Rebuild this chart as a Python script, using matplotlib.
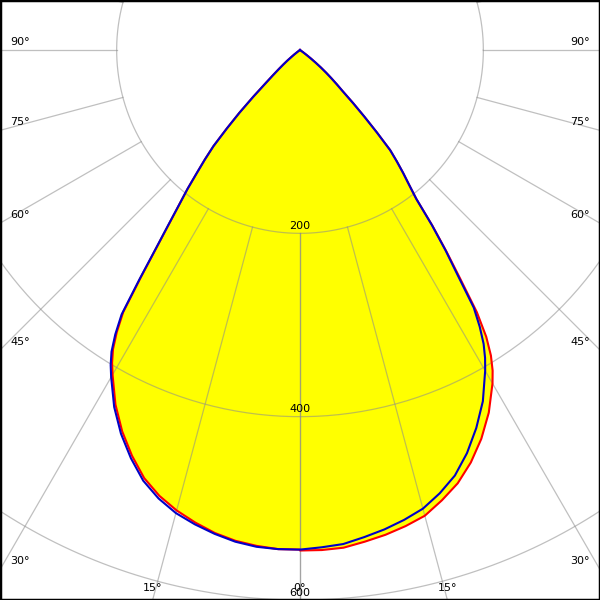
import numpy as np
import matplotlib
matplotlib.use("Agg")
import matplotlib.pyplot as plt

# gamma angles (deg) and luminous intensity (cd)
gamma = [0, 2.5, 5, 7.5, 10, 12.5, 15, 17.5, 20, 22.5, 25, 27.5,
         30, 31, 32, 33, 34, 35, 36, 37, 38, 39, 40, 41, 42, 43, 44,
         45, 46, 47, 48, 49, 50, 51, 52, 53, 54, 55]
# left half of the plot
left_blue = [545, 545, 544, 541, 536, 530, 523, 513, 500, 482, 462, 439,
             412, 401, 388, 370, 348, 305, 267, 238, 214, 195, 175, 158,
             141, 117, 95, 72, 52, 40, 31, 24, 18, 12, 8, 4, 2, 0]
left_red = [545, 545, 543, 540, 535, 528, 520, 510, 497, 479, 459, 436,
            409, 398, 385, 367, 345, 303, 266, 237, 214, 195, 175, 158,
            141, 117, 95, 72, 52, 40, 31, 24, 18, 12, 8, 4, 2, 0]
# right half of the plot
right_blue = [545, 543, 541, 536, 531, 525, 518, 507, 494, 476, 455, 432,
              404, 392, 378, 360, 339, 300, 270, 239, 206, 189, 175, 161,
              147, 123, 101, 82, 65, 55, 46, 38, 30, 22, 15, 9, 4, 0]
right_red = [546, 546, 545, 541, 537, 532, 526, 515, 503, 487, 468, 446,
             420, 408, 393, 373, 345, 305, 272, 240, 206, 189, 175, 161,
             147, 123, 101, 82, 65, 55, 46, 38, 30, 22, 15, 9, 4, 0]

circles = [200, 400, 600]
spokes = list(range(0, 181, 15))
label_angles = [15, 30, 45, 60, 75, 90]

px = 0.9167            # pixels per cd
X = 300 / px           # half width in cd
TOP = 50 / px
BOT = -550 / px


def to_xy(ang, val, side):
    a = np.radians(np.asarray(ang, float))
    r = np.asarray(val, float)
    return side * r * np.sin(a), -r * np.cos(a)


def curve(left, right):
    xl, yl = to_xy(gamma, left, -1)
    xr, yr = to_xy(gamma, right, 1)
    return np.concatenate([xl[::-1], xr]), np.concatenate([yl[::-1], yr])


fig = plt.figure(figsize=(6, 6), dpi=100)
ax = fig.add_axes([0, 0, 1, 1])
ax.set_xlim(-X, X)
ax.set_ylim(BOT, TOP)
ax.set_xticks([])
ax.set_yticks([])
for s in ax.spines.values():
    s.set_color("black")
    s.set_linewidth(2.5)

rx, ry = curve(left_red, right_red)
bx, by = curve(left_blue, right_blue)
ax.fill(rx, ry, color="#ffff00", lw=0, zorder=1)

gc = (0.55, 0.55, 0.55)
t = np.linspace(0, 2 * np.pi, 400)
for r in circles:
    ax.plot(r * np.cos(t), r * np.sin(t), color=gc, alpha=0.55, lw=0.9, zorder=2)
    ax.text(0, -r + 8, str(r), ha="center", va="center", fontsize=8, zorder=5)
for g in spokes:
    for side in (-1, 1):
        x, y = to_xy([g, g], [200, 1200], side)
        ax.plot(x, y, color=gc, alpha=0.55, lw=0.9, zorder=2)

ax.plot(rx, ry, color="#ff0000", lw=1.5, zorder=3)
ax.plot(bx, by, color="#0000c8", lw=1.5, zorder=4)

# angle labels along the frame
for g in label_angles:
    a = np.radians(g)
    y_exit = -X / np.tan(a) if g < 90 else 0.0
    for side in (-1, 1):
        if y_exit > BOT:
            xt = side * (X - 10 / px)
            ax.text(xt, y_exit + 9, f"{g}°", fontsize=8,
                    ha="left" if side < 0 else "right", va="center")
        else:
            xt = side * (-BOT) * np.tan(a)
            ax.text(xt, BOT + 12 / px, f"{g}°", fontsize=8,
                    ha="center", va="center")
ax.text(0, BOT + 12 / px, "0°", fontsize=8, ha="center", va="center")

fig.savefig("out.png", dpi=100)
